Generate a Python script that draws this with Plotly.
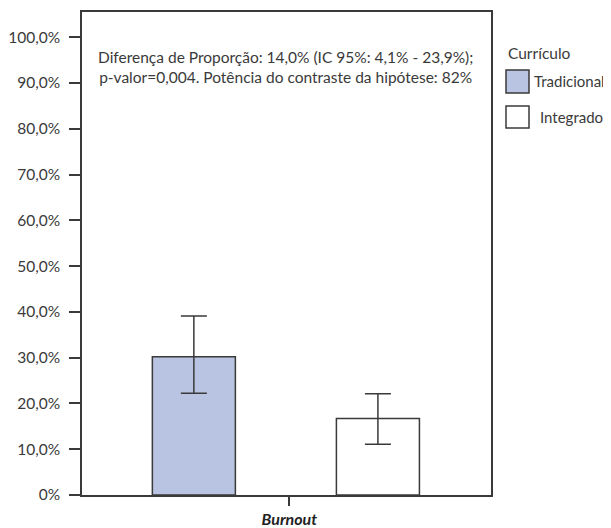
import plotly.graph_objects as go

categories = ["Burnout"]
groups = ["Tradicional", "Integrado"]
values = [30.2, 16.7]
ci_upper = [39.1, 22.1]
ci_lower = [22.2, 11.1]
fills = ["#b9c3e2", "#ffffff"]
tick_vals = [0, 10, 20, 30, 40, 50, 60, 70, 80, 90, 100]
tick_text = ["0%", "10,0%", "20,0%", "30,0%", "40,0%", "50,0%", "60,0%",
             "70,0%", "80,0%", "90,0%", "100,0%"]
note = ("Diferença de Proporção: 14,0% (IC 95%: 4,1% - 23,9%);<br>"
        "p-valor=0,004. Potência do contraste da hipótese: 82%")
legend_title = "Currículo"

FONT = "Lato"
DARK = "#3a3a3a"
FS = 15.5

# page has an 8px body margin: plot area in page px is x 82..491, y 12..495
PW, PH = 409, 483
def px(X):
    return (X - 82) / PW
def py(Y):
    return (495 - Y) / PH

bar_offsets = [-0.335, 0.115]
bar_width = 0.203

fig = go.Figure()
for g, v, hi, lo, c, off in zip(groups, values, ci_upper, ci_lower, fills, bar_offsets):
    fig.add_trace(go.Bar(
        x=categories, y=[v], name=g, offset=off, width=bar_width,
        marker=dict(color=c, line=dict(color=DARK, width=1.5)),
        error_y=dict(type="data", symmetric=False, array=[hi - v],
                     arrayminus=[v - lo], color=DARK, thickness=1.5, width=13),
        showlegend=False,
    ))

fig.update_layout(
    width=611, height=520,
    margin=dict(l=74, r=128, t=4, b=33, autoexpand=False),
    paper_bgcolor="white", plot_bgcolor="white",
    barmode="overlay",
    font=dict(family=FONT, size=FS, color=DARK),
    xaxis=dict(range=[-0.507, 0.493], showline=True, linecolor=DARK, linewidth=1.5,
               mirror=True, ticks="outside", ticklen=9, tickcolor=DARK, tickwidth=1.5,
               tickfont=dict(family=FONT, size=16, color="#222"),
               tickvals=categories, ticktext=["<b><i>Burnout</i></b>"],
               showgrid=False, zeroline=False, automargin=False),
    yaxis=dict(range=[0, 105.5], showline=True, linecolor=DARK, linewidth=1.5,
               mirror=True, ticks="outside", ticklen=11, tickcolor=DARK, tickwidth=1.5,
               tickvals=tick_vals, ticktext=tick_text, ticklabelstandoff=6,
               tickfont=dict(family=FONT, size=FS, color=DARK),
               showgrid=False, zeroline=False, automargin=False),
)

fig.add_annotation(xref="paper", yref="paper", x=px(285.5), y=py(67), yanchor="middle",
                   text=note, showarrow=False, align="center",
                   font=dict(family=FONT, size=FS, color=DARK))

# Manual legend
fig.add_annotation(xref="paper", yref="paper", x=px(506), y=py(53),
                   xanchor="left", yanchor="middle", text=legend_title, showarrow=False,
                   font=dict(family=FONT, size=FS, color=DARK))
legend_boxes = [(70, 93), (106, 128)]
legend_text_x = [532, 538]
for g, c, (ya, yb), tx in zip(groups, fills, legend_boxes, legend_text_x):
    fig.add_shape(type="rect", xref="paper", yref="paper", x0=px(506), x1=px(529),
                  y0=py(yb), y1=py(ya), fillcolor=c, line=dict(color=DARK, width=1.5))
    fig.add_annotation(xref="paper", yref="paper", x=px(tx), y=py((ya + yb) / 2),
                       xanchor="left", yanchor="middle", text=g, showarrow=False,
                       font=dict(family=FONT, size=15, color=DARK))

fig.write_html("out.html")
